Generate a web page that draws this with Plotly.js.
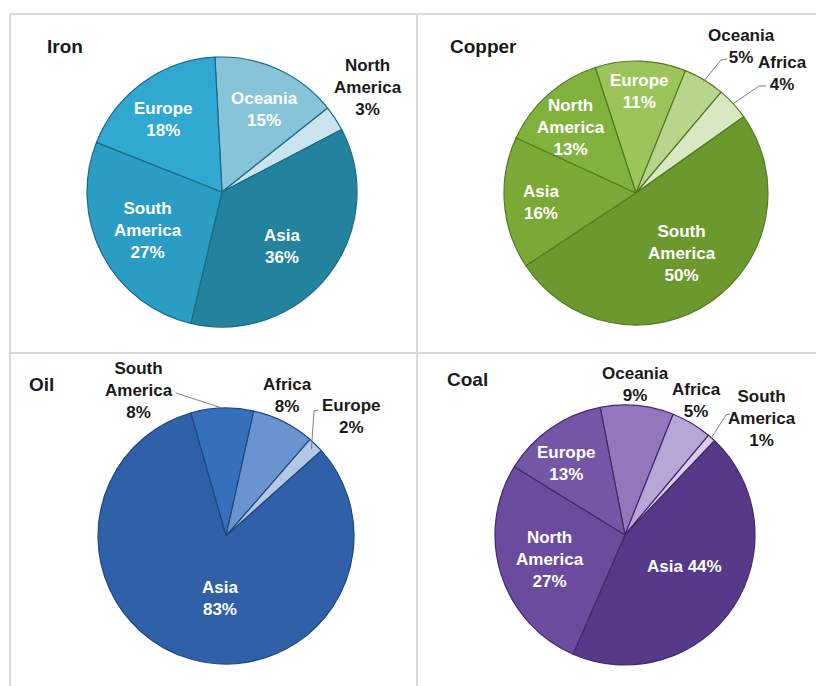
<!DOCTYPE html>
<html>
<head>
<meta charset="utf-8">
<script src="https://cdn.plot.ly/plotly-3.0.1.min.js"></script>
<style>
  html, body { margin: 0; padding: 0; background: #ffffff; }
  #chart { width: 816px; height: 686px; }
</style>
</head>
<body>
<div id="chart"></div>
<script>
// ---------------- DATA ----------------
const ironLabels   = ["Oceania", "North America", "Asia", "South America", "Europe"];
const ironValues   = [15, 3, 36, 27, 18];

const copperLabels = ["Europe", "Oceania", "Africa", "South America", "Asia", "North America"];
const copperValues = [11, 5, 4, 50, 16, 13];

const oilLabels    = ["South America", "Africa", "Europe", "Asia"];
const oilValues    = [8, 8, 2, 83];

const coalLabels   = ["Oceania", "Africa", "South America", "Asia", "North America", "Europe"];
const coalValues   = [9, 5, 1, 44, 27, 13];

// ---------------- STYLE / LAYOUT ----------------
const W = 816, H = 686;
const FONT = "Liberation Sans, Arial, sans-serif";

const pies = [
  { title: "Iron", titlePos: [45, 46], cx: 222, cy: 192, R: 135, rotation: -3,
    labels: ironLabels, values: ironValues,
    colors: ["#88c4d9", "#c9e4ee", "#23839f", "#2b9cc3", "#31a8d2"],
    line: "#1b6a82",
    text: ["Oceania<br>15%", "North<br>America<br>3%", "Asia<br>36%", "South<br>America<br>27%", "Europe<br>18%"],
    place: [ {r: .69, da: 3}, {out: [368, 87]}, {r: .60, da: 4}, {r: .62, da: 0}, {r: .69, da: -3} ] },
  { title: "Copper", titlePos: [448, 46], cx: 636, cy: 193, R: 132, rotation: -18,
    labels: copperLabels, values: copperValues,
    colors: ["#9cc45a", "#b7d58d", "#d8e8c2", "#6b992e", "#7aa936", "#82b23e"],
    line: "#557a22",
    text: ["Europe<br>11%", "Oceania<br>5%", "Africa<br>4%", "South<br>America<br>50%", "Asia<br>16%", "North<br>America<br>13%"],
    place: [ {r: .77, da: 0},
             {out: [741, 47], lead: [[727, 59], [721, 60]], lf: 0.98},
             {out: [782, 74], lead: [[766, 86], [759, 86]], lf: 1.0},
             {r: .58, da: -3}, {r: .72, da: -1.5}, {r: .70, da: -3} ] },
  { title: "Oil", titlePos: [27, 385], cx: 226, cy: 536, R: 128, rotation: -16,
    labels: oilLabels, values: oilValues,
    colors: ["#3670bb", "#6b93cf", "#b4c8e6", "#2f60a8"],
    line: "#1f4782",
    text: ["South<br>America<br>8%", "Africa<br>8%", "Europe<br>2%", "Asia<br>83%"],
    place: [ {out: [139, 390], lead: [[176, 393]], lf: 1.0},
             {out: [287, 395]},
             {out: [351, 416], lead: [[318, 410], [314, 411]], lf: 0.95},
             {r: .49, da: -10.7} ] },
  { title: "Coal", titlePos: [445, 379], cx: 625, cy: 535, R: 130, rotation: -11,
    labels: coalLabels, values: coalValues,
    colors: ["#9277bd", "#b8a6d6", "#d9cdea", "#573989", "#6a4b9e", "#7356a6"],
    line: "#422a6a",
    text: ["Oceania<br>9%", "Africa<br>5%", "South<br>America<br>1%", "Asia 44%", "North<br>America<br>27%", "Europe<br>13%"],
    place: [ {out: [635, 384]}, {out: [696, 400]},
             {out: [762, 418], lead: [[730, 414], [726, 415]], lf: 0.99},
             {r: .52, da: -5.5}, {r: .61, da: -1}, {r: .71, da: -4.3} ] }
];

const px = x => x / W;
const py = y => 1 - y / H;

const data = [];
const annotations = [];
const shapes = [];

// grid borders
const borderColor = "#d9d9d9";
[[10, 14, 820, 14], [10, 14, 10, 690], [417, 14, 417, 690], [10, 353, 820, 353]].forEach(s => {
  shapes.push({ type: "line", xref: "paper", yref: "paper",
    x0: px(s[0]), y0: py(s[1]), x1: px(s[2]), y1: py(s[3]),
    line: { color: borderColor, width: 2 } });
});

pies.forEach(p => {
  data.push({
    type: "pie",
    labels: p.labels,
    values: p.values,
    sort: false,
    direction: "clockwise",
    rotation: p.rotation,
    textinfo: "none",
    hoverinfo: "label+percent",
    showlegend: false,
    marker: { colors: p.colors, line: { color: p.line, width: 1.2 } },
    domain: { x: [px(p.cx - p.R), px(p.cx + p.R)], y: [py(p.cy + p.R), py(p.cy - p.R)] }
  });

  annotations.push({
    xref: "paper", yref: "paper", x: px(p.titlePos[0]), y: py(p.titlePos[1]),
    xanchor: "left", yanchor: "middle", showarrow: false,
    text: "<b>" + p.title + "</b>",
    font: { family: FONT, size: 19, color: "#1a1a1a" }
  });

  const total = p.values.reduce((a, b) => a + b, 0);
  let start = p.rotation;
  p.values.forEach((v, i) => {
    const sweep = v / total * 360;
    const mid = start + sweep / 2;
    start += sweep;
    const pl = p.place[i];
    let tx, ty, color;
    if (pl.out) {
      tx = pl.out[0]; ty = pl.out[1]; color = "#1a1a1a";
      if (pl.lead) {
        const a = mid * Math.PI / 180;
        const ex = p.cx + p.R * pl.lf * Math.sin(a);
        const ey = p.cy - p.R * pl.lf * Math.cos(a);
        const pts = pl.lead.concat([[ex, ey]]);
        let path = "";
        pts.forEach((q, k) => { path += (k ? " L " : "M ") + px(q[0]) + "," + py(q[1]); });
        shapes.push({ type: "path", xref: "paper", yref: "paper", path: path,
          line: { color: "#808080", width: 1 } });
      }
    } else {
      const a = (mid + pl.da) * Math.PI / 180;
      tx = p.cx + p.R * pl.r * Math.sin(a);
      ty = p.cy - p.R * pl.r * Math.cos(a);
      color = "#ffffff";
    }
    annotations.push({
      xref: "paper", yref: "paper", x: px(tx), y: py(ty),
      xanchor: "center", yanchor: "middle", showarrow: false, align: "center",
      text: "<b>" + p.text[i] + "</b>",
      font: { family: FONT, size: 17, color: color }
    });
  });
});

const layout = {
  width: W, height: H,
  margin: { l: 0, r: 0, t: 0, b: 0 },
  paper_bgcolor: "#ffffff",
  showlegend: false,
  annotations: annotations,
  shapes: shapes
};

Plotly.newPlot("chart", data, layout, { displayModeBar: false, staticPlot: true });
</script>
</body>
</html>
